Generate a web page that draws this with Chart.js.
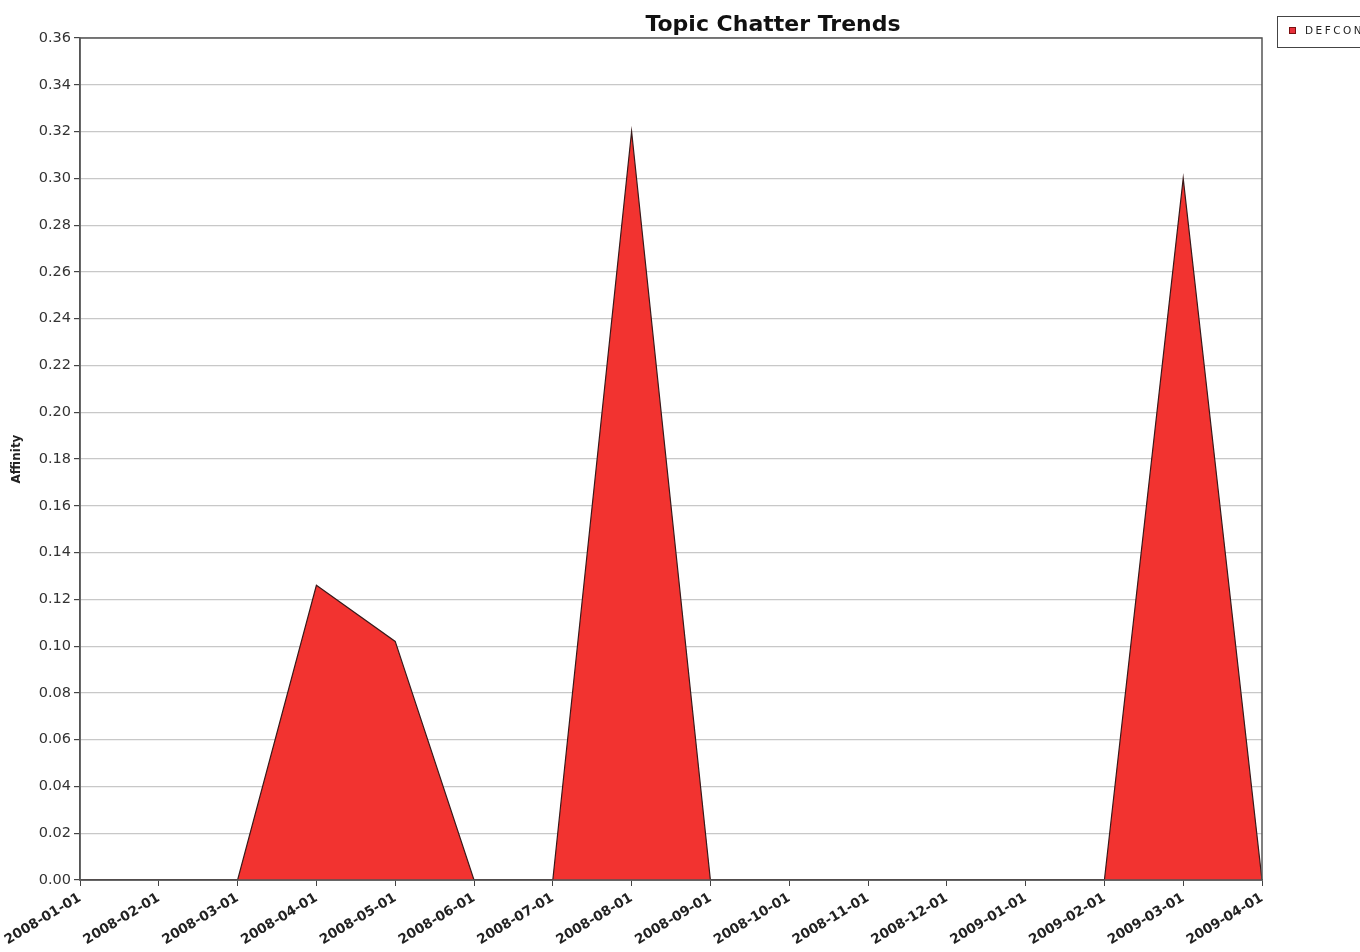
<!DOCTYPE html>
<html>
<head>
<meta charset="utf-8">
<script src="https://cdn.jsdelivr.net/npm/chart.js@4/dist/chart.umd.min.js"></script>
<style>
html,body{margin:0;padding:0;background:#fff;overflow:hidden;width:1360px;height:952px;}
</style>
</head>
<body>
<canvas id="c" width="1360" height="952"></canvas>
<script>
const categories = ["2008-01-01","2008-02-01","2008-03-01","2008-04-01","2008-05-01","2008-06-01","2008-07-01","2008-08-01","2008-09-01","2008-10-01","2008-11-01","2008-12-01","2009-01-01","2009-02-01","2009-03-01","2009-04-01"];
const defconValues = [0,0,0,0.126,0.102,0,0,0.32,0,0,0,0,0,0,0.30,0];
const seriesName = "DEFCON";
const chartTitle = "Topic Chatter Trends";
const yAxisTitle = "Affinity";

const framePlugin = {
  id:'frame',
  afterDraw(chart){
    const {ctx, chartArea:a} = chart;
    ctx.save();
    ctx.strokeStyle='#555';
    ctx.lineWidth=1.5;
    ctx.strokeRect(a.left, a.top, a.right-a.left, a.bottom-a.top);
    // title
    ctx.fillStyle='#111';
    ctx.font='bold 22px "DejaVu Sans", sans-serif';
    ctx.textAlign='center';
    ctx.textBaseline='alphabetic';
    ctx.fillText(chartTitle, 773, 31);
    // legend
    ctx.textAlign='left';
    ctx.strokeStyle='#444';
    ctx.lineWidth=1;
    ctx.strokeRect(1277.5, 16.5, 130, 31);
    ctx.fillStyle='#e8303a';
    ctx.fillRect(1289, 27, 7, 7);
    ctx.strokeStyle='#7a1010';
    ctx.strokeRect(1289.5, 27.5, 6, 6);
    ctx.fillStyle='#222';
    ctx.font='10.5px "DejaVu Sans", sans-serif';
    ctx.letterSpacing='2.5px';
    ctx.textBaseline='middle';
    ctx.fillText(seriesName, 1305, 31.5);
    ctx.restore();
  }
};

new Chart(document.getElementById('c'), {
  type:'line',
  data:{
    labels:categories,
    datasets:[{
      label:seriesName,
      data:defconValues,
      fill:'origin',
      backgroundColor:'#f23330',
      borderColor:'#3a1a1a',
      borderWidth:1.2,
      pointRadius:0,
      tension:0
    }]
  },
  options:{
    responsive:false,
    animation:false,
    layout:{padding:{left:0,right:98,top:38,bottom:0}},
    plugins:{
      legend:{display:false},
      tooltip:{enabled:false},
      title:{display:false}
    },
    scales:{
      x:{
        offset:false,
        afterFit(s){ s.height = 72; },
        grid:{display:true,drawOnChartArea:false,tickLength:6,tickColor:'#444',color:'#444'},
        border:{display:true,color:'#555',width:1.5},
        ticks:{
          autoSkip:false,
          maxRotation:31,minRotation:31,
          color:'#222',
          padding:4,
          font:{family:'"DejaVu Sans", sans-serif',size:13.5,weight:'bold'}
        }
      },
      y:{
        min:0,max:0.36,
        afterFit(s){ s.width = 80; },
        grid:{color:'#c8c8c8',lineWidth:1.2,tickLength:6,tickColor:'#444'},
        border:{display:true,color:'#555',width:1.5},
        ticks:{
          stepSize:0.02,
          color:'#333',
          padding:3,
          font:{family:'"DejaVu Sans", sans-serif',size:14.5},
          callback:(v)=>Number(v).toFixed(2)
        },
        title:{
          display:true,
          text:yAxisTitle,
          color:'#222',
          padding:{top:10,bottom:0},
          font:{family:'"DejaVu Sans", sans-serif',size:12,weight:'bold'}
        }
      }
    }
  },
  plugins:[framePlugin]
});
</script>
</body>
</html>
